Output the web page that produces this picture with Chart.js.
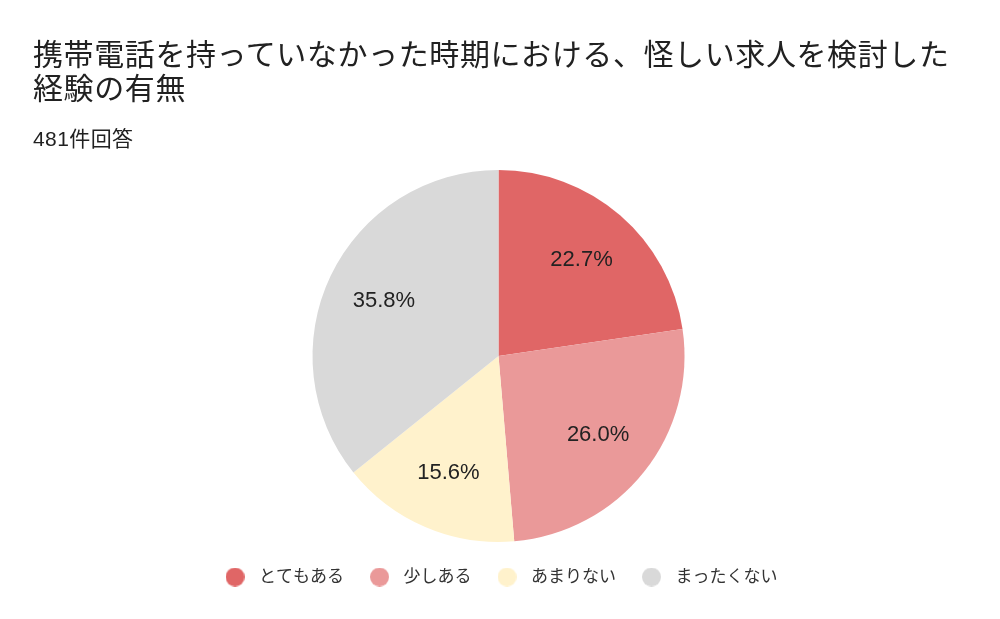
<!DOCTYPE html>
<html lang="ja">
<head>
<meta charset="utf-8">
<title>経験の有無</title>
<script src="https://cdn.jsdelivr.net/npm/chart.js@4.4.1/dist/chart.umd.min.js"></script>
<style>
  html, body { margin: 0; padding: 0; background: #fff; }
  #wrap { position: relative; width: 1000px; height: 619px; overflow: hidden; }
  #chart { position: absolute; left: 0; top: 0; }
  .title {
    position: absolute; left: 33px; top: 38px;
    font-family: "Liberation Sans", "Noto Sans CJK JP", sans-serif;
    font-size: 30px; line-height: 34px; letter-spacing: 0.6px;
    color: #212121; white-space: nowrap;
  }
  .subtitle {
    position: absolute; left: 33px; top: 127px;
    font-family: "Liberation Sans", "Noto Sans CJK JP", sans-serif;
    font-size: 21px; line-height: 24px; letter-spacing: 0.4px;
    color: #212121; white-space: nowrap;
  }
</style>
</head>
<body>
<div id="wrap">
  <canvas id="chart" width="1000" height="619"></canvas>
  <div class="title">携帯電話を持っていなかった時期における、怪しい求人を検討した<br>経験の有無</div>
  <div class="subtitle">481件回答</div>
</div>
<script>
const labels = ["とてもある", "少しある", "あまりない", "まったくない"];
const percents = [22.7, 26.0, 15.6, 35.8];
const colors = ["#e06666", "#ea9999", "#fff2cc", "#d9d9d9"];

const FONT = "'Liberation Sans', 'Noto Sans CJK JP', sans-serif";

// small round legend icons, one per slice colour
function dot(color) {
  const c = document.createElement("canvas");
  c.width = 19;
  c.height = 19;
  const g = c.getContext("2d");
  g.fillStyle = color;
  g.beginPath();
  g.arc(9.5, 9.5, 9.5, 0, Math.PI * 2);
  g.fill();
  return c;
}
const dots = colors.map(dot);

// percentage text in each slice
const sliceLabels = {
  id: "sliceLabels",
  afterDatasetsDraw(chart) {
    const ctx = chart.ctx;
    const meta = chart.getDatasetMeta(0);
    ctx.save();
    ctx.font = "22px " + FONT;
    ctx.fillStyle = "#222";
    ctx.textAlign = "center";
    ctx.textBaseline = "middle";
    meta.data.forEach((arc, i) => {
      const p = arc.getProps(["x", "y", "startAngle", "endAngle", "outerRadius"], true);
      const mid = (p.startAngle + p.endAngle) / 2;
      const r = p.outerRadius * 0.683;
      ctx.fillText(percents[i].toFixed(1) + "%", p.x + Math.cos(mid) * r, p.y + Math.sin(mid) * r);
    });
    ctx.restore();
  },
};

new Chart(document.getElementById("chart"), {
  type: "pie",
  data: {
    labels: labels,
    datasets: [
      {
        data: percents,
        backgroundColor: colors,
        borderWidth: 0,
        radius: 186,
      },
    ],
  },
  options: {
    responsive: false,
    animation: false,
    events: [],
    layout: { padding: { top: 163.5, bottom: 23.5, left: 0, right: 3 } },
    plugins: {
      title: { display: false },
      tooltip: { enabled: false },
      legend: {
        position: "bottom",
        labels: {
          usePointStyle: true,
          pointStyleWidth: 31,
          padding: 20,
          color: "#333",
          font: { family: FONT, size: 17 },
          generateLabels(chart) {
            const base = Chart.overrides.pie.plugins.legend.labels.generateLabels(chart);
            return base.map((item, i) => ({ ...item, pointStyle: dots[i] }));
          },
        },
      },
    },
  },
  plugins: [sliceLabels],
});
</script>
</body>
</html>
